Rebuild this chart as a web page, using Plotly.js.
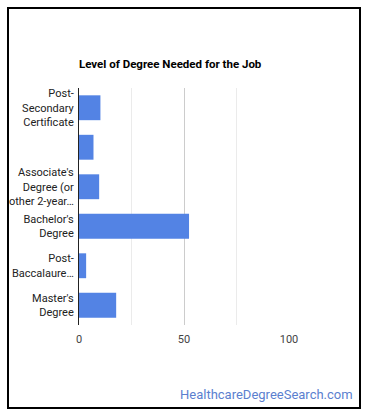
<!DOCTYPE html>
<html>
<head>
<meta charset="utf-8">
<script src="https://cdn.plot.ly/plotly-3.0.1.min.js"></script>
<style>
  html, body { margin: 0; padding: 0; background: #fff; }
  #wrap { position: relative; width: 370px; height: 417px; }
  #frame { position: absolute; left: 7px; top: 7px; width: 350px; height: 398px; border: 2px solid #000; }
  #chart { position: absolute; left: 0; top: 0; width: 370px; height: 417px; }
</style>
</head>
<body>
<div id="wrap">
  <div id="frame"></div>
  <div id="chart"></div>
</div>
<script>
// Share of workers by education level
const degreeLabels = [
  "Post-<br>Secondary<br>Certificate",
  " ",
  "Associate's<br>Degree (or<br>other 2-year…",
  "Bachelor's<br>Degree",
  "Post-<br>Baccalaure…",
  "Master's<br>Degree"
];
const degreeShares = [10.2, 6.9, 9.6, 52.4, 3.4, 17.7];
const xTickValues = [0, 50, 100];
const xTickLabels = ["0", "50", "100"];

const trace = {
  type: "bar",
  orientation: "h",
  y: degreeLabels,
  x: degreeShares,
  marker: { color: "#5383e4" },
  hoverinfo: "none"
};

const layout = {
  width: 370,
  height: 417,
  margin: { l: 79, r: 81, t: 88, b: 92 },
  paper_bgcolor: "rgba(0,0,0,0)",
  plot_bgcolor: "rgba(0,0,0,0)",
  bargap: 0.37,
  showlegend: false,
  font: { family: "Roboto, Arial, sans-serif", size: 11, color: "#222" },
  title: {
    text: "<b>Level of Degree Needed for the Job</b>",
    font: { family: "Roboto, Arial, sans-serif", size: 11.5, color: "#000" },
    xref: "paper", x: 0, xanchor: "left",
    yref: "container", y: 1 - 64 / 417, yanchor: "middle"
  },
  xaxis: {
    range: [0, 100],
    tickvals: xTickValues,
    ticktext: xTickLabels,
    showgrid: true,
    gridcolor: "#cccccc",
    gridwidth: 1,
    minor: { dtick: 25, showgrid: true, gridcolor: "#ebebeb", gridwidth: 1 },
    zeroline: false,
    showline: false,
    ticks: "",
    ticklabelstandoff: 6,
    tickfont: { size: 11, color: "#444" },
    fixedrange: true
  },
  yaxis: {
    type: "category",
    autorange: "reversed",
    showgrid: false,
    showline: true,
    linecolor: "#222",
    linewidth: 1,
    ticks: "",
    ticklabelstandoff: 2,
    tickfont: { size: 11, color: "#222" },
    fixedrange: true
  },
  annotations: [{
    text: "HealthcareDegreeSearch.com",
    xref: "paper", yref: "paper",
    x: (355 - 79) / 210, y: (325 - 394) / 237,
    xanchor: "right", yanchor: "middle",
    showarrow: false,
    font: { family: "Roboto, Arial, sans-serif", size: 13, color: "#5b7fcf" }
  }]
};

Plotly.newPlot("chart", [trace], layout, { displayModeBar: false, staticPlot: true });
</script>
</body>
</html>
